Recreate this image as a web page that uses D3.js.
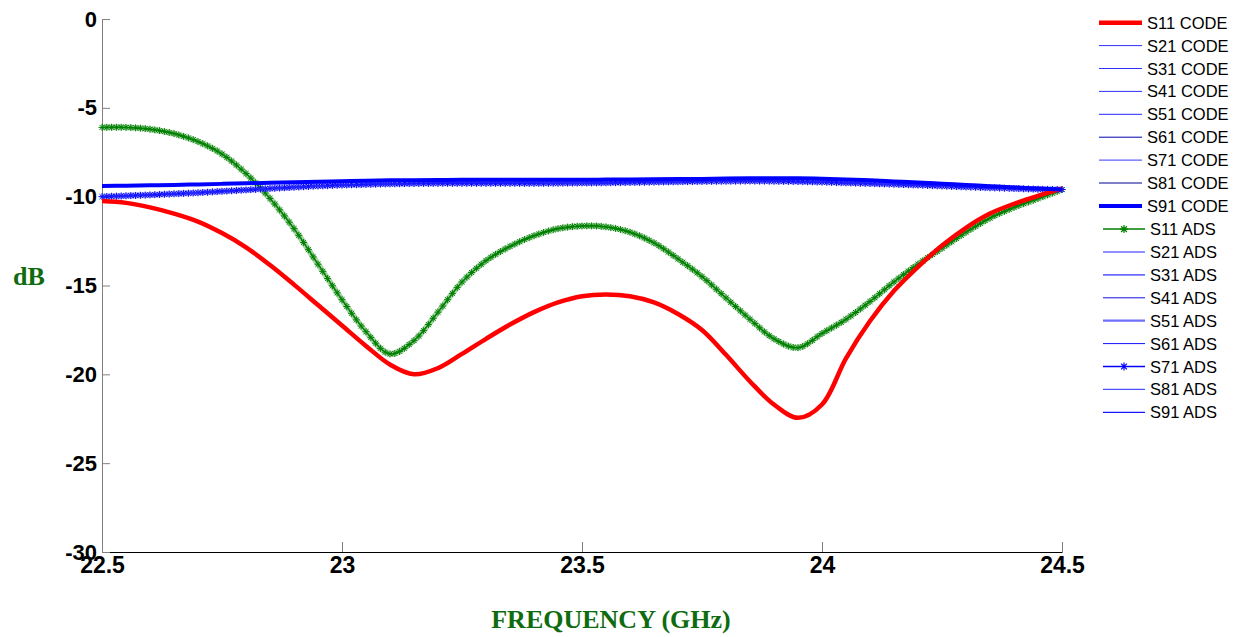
<!DOCTYPE html>
<html>
<head>
<meta charset="utf-8">
<script src="https://cdn.jsdelivr.net/npm/d3@7"></script>
<style>
  body { margin: 0; background: #fff; }
  svg { display: block; font-family: "Liberation Sans", Arial, sans-serif; }
</style>
</head>
<body>
<script>
// frequency grid (GHz), every 0.05
let freqs = d3.range(0, 41).map(i => +(22.5 + i * 0.05).toFixed(2));

// S11 from the code (red)
let s11Code = [-10.25, -10.35, -10.6, -10.95, -11.4, -12.05, -12.85, -13.85, -14.95, -16.1,
  -17.25, -18.4, -19.45, -20.0, -19.65, -18.85, -18.0, -17.2, -16.5, -15.95,
  -15.6, -15.5, -15.6, -15.95, -16.6, -17.5, -18.9, -20.4, -21.7, -22.45,
  -21.7, -19.1, -17.0, -15.3, -13.95, -12.75, -11.75, -10.95, -10.4, -9.95, -9.55];

// S11 from ADS (green, star markers)
let s11Ads = [-6.1, -6.1, -6.2, -6.45, -6.9, -7.6, -8.7, -10.1, -11.8, -13.8,
  -15.8, -17.6, -18.85, -18.1, -16.5, -14.8, -13.6, -12.8, -12.2, -11.8,
  -11.65, -11.7, -12.0, -12.6, -13.5, -14.5, -15.7, -16.9, -18.0, -18.5,
  -17.7, -16.9, -15.9, -14.8, -13.8, -12.9, -12.0, -11.2, -10.6, -10.1, -9.6];

// coupling terms, code (thick blue band)
let sxCode = [-9.4, -9.38, -9.36, -9.34, -9.31, -9.28, -9.25, -9.22, -9.19, -9.16,
  -9.13, -9.1, -9.08, -9.07, -9.06, -9.05, -9.05, -9.05, -9.05, -9.05,
  -9.05, -9.04, -9.03, -9.02, -9.01, -9.0, -8.98, -8.97, -8.97, -8.97,
  -8.99, -9.03, -9.08, -9.14, -9.2, -9.27, -9.34, -9.41, -9.48, -9.54, -9.6];

// coupling terms, ADS (blue star band)
let sxAds = [-10.0, -9.95, -9.9, -9.84, -9.78, -9.7, -9.62, -9.54, -9.47, -9.4,
  -9.35, -9.31, -9.28, -9.26, -9.25, -9.25, -9.25, -9.25, -9.25, -9.24,
  -9.23, -9.22, -9.2, -9.18, -9.16, -9.14, -9.13, -9.12, -9.13, -9.15,
  -9.18, -9.22, -9.26, -9.3, -9.35, -9.4, -9.45, -9.5, -9.54, -9.58, -9.6];

let xTicks = [22.5, 23, 23.5, 24, 24.5];
let yTicks = [0, -5, -10, -15, -20, -25, -30];

// legend entries: name, data, colour, width, markers
let series = [
  { name: "S11 CODE", data: s11Code, color: "#ff0000", width: 4.5 },
  { name: "S21 CODE", data: sxCode, color: "#3030ff", width: 1 },
  { name: "S31 CODE", data: sxCode, color: "#3030ff", width: 1 },
  { name: "S41 CODE", data: sxCode, color: "#3030ff", width: 1 },
  { name: "S51 CODE", data: sxCode, color: "#5050ff", width: 1.2 },
  { name: "S61 CODE", data: sxCode, color: "#0000b0", width: 1 },
  { name: "S71 CODE", data: sxCode, color: "#6060ff", width: 1.4 },
  { name: "S81 CODE", data: sxCode, color: "#000090", width: 1 },
  { name: "S91 CODE", data: sxCode, color: "#0000ff", width: 4 },
  { name: "S11 ADS", data: s11Ads, color: "#008000", width: 1.5, star: true, halo: "rgba(0,128,0,0.35)" },
  { name: "S21 ADS", data: sxAds, color: "#2020ff", width: 1 },
  { name: "S31 ADS", data: sxAds, color: "#6a6aff", width: 1.8 },
  { name: "S41 ADS", data: sxAds, color: "#1010e0", width: 1 },
  { name: "S51 ADS", data: sxAds, color: "#7070ff", width: 2.2 },
  { name: "S61 ADS", data: sxAds, color: "#1010ff", width: 1 },
  { name: "S71 ADS", data: sxAds, color: "#0000ff", width: 1.5, star: true, halo: "rgba(80,80,255,0.45)" },
  { name: "S81 ADS", data: sxAds, color: "#5050ff", width: 1.3 },
  { name: "S91 ADS", data: sxAds, color: "#1515ff", width: 1.2 }
];

let W = 1238, H = 637;
let svg = d3.select("body").append("svg").attr("width", W).attr("height", H);

let x = d3.scaleLinear().domain([22.5, 24.5]).range([102, 1062]);
let y = d3.scaleLinear().domain([-30, 0]).range([552, 19]);

// plain hyphen, like the original
let fmt = d => String(d);

// axes
let xAxis = svg.append("g").attr("transform", "translate(0,552)")
  .call(d3.axisBottom(x).tickValues(xTicks).tickFormat(fmt).tickSize(-10).tickSizeOuter(0).tickPadding(5));
xAxis.select(".domain").attr("stroke", "#000");
xAxis.selectAll(".tick line").attr("stroke", "#808080");
xAxis.selectAll("text").attr("font-size", 23).attr("font-weight", "bold").attr("fill", "#000")
  .attr("font-family", "'Liberation Sans', Arial, sans-serif");

let yAxis = svg.append("g").attr("transform", "translate(102,0)")
  .call(d3.axisLeft(y).tickValues(yTicks).tickFormat(fmt).tickSize(-8).tickSizeOuter(0).tickPadding(5));
yAxis.select(".domain").attr("stroke", "#808080");
yAxis.selectAll(".tick line").attr("stroke", "#808080");
yAxis.selectAll("text").attr("font-size", 22).attr("font-weight", "bold").attr("fill", "#000")
  .attr("font-family", "'Liberation Sans', Arial, sans-serif");

// axis titles
svg.append("text").attr("x", 29).attr("y", 285).attr("text-anchor", "middle")
  .attr("font-family", "'Liberation Serif', 'Times New Roman', serif").attr("font-weight", "bold")
  .attr("font-size", 26).attr("fill", "#0f6b0f").text("dB");
svg.append("text").attr("x", 611).attr("y", 628).attr("text-anchor", "middle")
  .attr("font-family", "'Liberation Serif', 'Times New Roman', serif").attr("font-weight", "bold")
  .attr("font-size", 26).attr("fill", "#0f6b0f").text("FREQUENCY (GHz)");

let line = d3.line()
  .x((d, i) => x(freqs[i]))
  .y(d => y(d))
  .curve(d3.curveCatmullRom.alpha(0.5));

// star marker like matlab '*'
function starPath(r) {
  let a = r * 0.72;
  return `M${-r},0H${r}M0,${-r}V${r}M${-a},${-a}L${a},${a}M${-a},${a}L${a},${-a}`;
}

// point on a path at a given x (binary search on length)
function pointAtX(node, px) {
  let total = node.getTotalLength();
  let lo = 0, hi = total;
  for (let k = 0; k < 30; k++) {
    let mid = (lo + hi) / 2;
    if (node.getPointAtLength(mid).x < px) lo = mid; else hi = mid;
  }
  return node.getPointAtLength(lo);
}

let plot = svg.append("g");

// ADS first, code on top
let order = series.slice(9).concat(series.slice(0, 9));
order.forEach(s => {
  if (s.halo) {
    plot.append("path").attr("d", line(s.data)).attr("fill", "none")
      .attr("stroke", s.halo).attr("stroke-width", 6).attr("stroke-linejoin", "round");
  }
  let p = plot.append("path").attr("d", line(s.data)).attr("fill", "none")
    .attr("stroke", s.color).attr("stroke-width", s.width).attr("stroke-linejoin", "round");
  if (s.star) {
    let node = p.node();
    let xs = d3.range(x(22.5), x(24.5) + 0.1, 4.8);
    plot.append("g").selectAll("path").data(xs).join("path")
      .attr("transform", px => { let pt = pointAtX(node, px); return `translate(${pt.x},${pt.y})`; })
      .attr("d", starPath(3.5)).attr("fill", "none").attr("stroke", s.color).attr("stroke-width", 1);
  }
});

// legend
let legend = svg.append("g");
series.forEach((s, i) => {
  let ads = i >= 9;
  let ly = 22.7 + i * 22.9 + (ads ? 0.3 : 0);
  let x0 = ads ? 1103 : 1099, x1 = ads ? 1145 : 1142;
  legend.append("line").attr("x1", x0).attr("x2", x1).attr("y1", ly).attr("y2", ly)
    .attr("stroke", s.color).attr("stroke-width", s.width);
  if (s.star) {
    legend.append("path").attr("transform", `translate(${(x0 + x1) / 2},${ly})`)
      .attr("d", starPath(4)).attr("fill", "none").attr("stroke", s.color).attr("stroke-width", 1.2);
  }
  legend.append("text").attr("x", x1 + 5).attr("y", ly + 6).attr("font-size", 16.5).attr("fill", "#000")
    .text(s.name);
});
</script>
</body>
</html>
